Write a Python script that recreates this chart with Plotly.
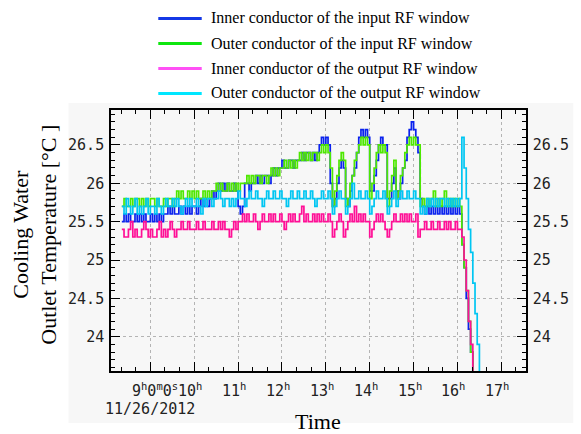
import plotly.graph_objects as go
import pandas as pd

# ---------------- data ----------------
series_names = [
    "Inner conductor of the input RF window",
    "Outer conductor of the input RF window",
    "Inner conductor of the output RF window",
    "Outer conductor of the output RF window",
]
start_time = "2012-11-26 08:21:00"
step_minutes = 3

inner_in = [
    25.5, 25.6, 25.5, 25.6, 25.5, 25.5, 25.6, 25.5, 25.6, 25.5,
    25.6, 25.5, 25.5, 25.6, 25.5, 25.6, 25.5, 25.6, 25.5, 25.6,
    25.6, 25.7, 25.6, 25.7, 25.6, 25.6, 25.7, 25.6, 25.7, 25.6,
    25.7, 25.6, 25.7, 25.7, 25.6, 25.7, 25.8, 25.7, 25.8, 25.7,
    25.8, 25.9, 25.8, 25.9, 26.0, 25.9, 26.0, 25.9, 26.0, 25.9,
    25.9, 26.0, 25.9, 25.7, 25.6, 25.7, 26.0, 26.0, 25.9, 26.0,
    26.0, 26.1, 26.0, 26.1, 26.0, 26.1, 26.1, 26.0, 26.1, 26.2,
    26.1, 26.2, 26.2, 26.3, 26.2, 26.2, 26.3, 26.3, 26.2, 26.3,
    26.3, 26.3, 26.4, 26.3, 26.4, 26.4, 26.3, 26.4, 26.3, 26.4,
    26.5, 26.6, 26.5, 26.6, 26.5, 26.0, 25.7, 25.8, 26.0, 26.2,
    26.3, 26.2, 25.8, 25.7, 25.9, 26.1, 26.2, 26.4, 26.6, 26.7,
    26.6, 26.7, 26.6, 25.9, 25.9, 26.1, 26.3, 26.5, 26.6, 26.5,
    26.5, 25.8, 25.8, 26.0, 26.2, 25.9, 25.8, 26.0, 26.2, 26.3,
    26.6, 26.7, 26.8, 26.7, 26.6, 26.4, 25.8, 25.7, 25.6, 25.7,
    25.6, 25.7, 25.6, 25.7, 25.6, 25.7, 25.6, 25.7, 25.6, 25.7,
    25.6, 25.7, 25.6, 25.7, 25.6, 25.2, 24.9, 24.5, 24.1, 23.8,
    23.5, 23.2,
]

outer_in = [
    25.7, 25.8, 25.7, 25.7, 25.8, 25.7, 25.8, 25.8, 25.7, 25.8,
    25.7, 25.8, 25.7, 25.8, 25.8, 25.7, 25.8, 25.7, 25.7, 25.8,
    25.7, 25.8, 25.8, 25.7, 25.8, 25.9, 25.8, 25.9, 25.8, 25.8,
    25.9, 25.8, 25.9, 25.8, 25.9, 25.8, 25.8, 25.9, 25.8, 25.9,
    25.8, 25.9, 25.9, 26.0, 25.9, 26.0, 25.9, 25.9, 26.0, 25.9,
    26.0, 25.9, 26.0, 25.9, 26.0, 26.0, 26.0, 26.1, 26.0, 26.1,
    26.0, 26.1, 26.1, 26.0, 26.1, 26.1, 26.0, 26.1, 26.2, 26.1,
    26.2, 26.1, 26.2, 26.2, 26.3, 26.2, 26.3, 26.2, 26.3, 26.2,
    26.3, 26.4, 26.3, 26.4, 26.3, 26.4, 26.3, 26.4, 26.4, 26.3,
    26.4, 26.5, 26.4, 26.5, 26.4, 26.2, 25.7, 25.9, 26.1, 26.3,
    26.4, 26.3, 25.7, 25.8, 26.0, 26.1, 26.3, 26.4, 26.5, 26.6,
    26.5, 26.6, 26.5, 25.8, 26.0, 26.2, 26.4, 26.5, 26.4, 26.5,
    26.4, 25.7, 25.9, 26.1, 26.3, 25.8, 25.9, 26.1, 26.2, 26.4,
    26.5, 26.6, 26.5, 26.6, 26.5, 26.5, 25.7, 25.8, 25.7, 25.8,
    25.7, 25.8, 25.9, 25.7, 25.8, 25.7, 25.8, 25.9, 25.7, 25.8,
    25.7, 25.8, 25.7, 25.8, 25.7, 25.2, 24.9, 24.6, 24.2, 23.8,
    23.5, 23.1,
]

inner_out = [
    25.4, 25.3, 25.3, 25.4, 25.5, 25.3, 25.4, 25.3, 25.3, 25.4,
    25.5, 25.4, 25.3, 25.4, 25.3, 25.3, 25.4, 25.5, 25.3, 25.4,
    25.3, 25.4, 25.5, 25.4, 25.3, 25.4, 25.4, 25.5, 25.4, 25.4,
    25.5, 25.4, 25.4, 25.4, 25.5, 25.4, 25.4, 25.5, 25.4, 25.4,
    25.4, 25.5, 25.4, 25.4, 25.5, 25.4, 25.5, 25.4, 25.4, 25.3,
    25.4, 25.5, 25.4, 25.5, 25.5, 25.6, 25.5, 25.6, 25.5, 25.5,
    25.6, 25.5, 25.4, 25.5, 25.6, 25.5, 25.5, 25.6, 25.5, 25.6,
    25.5, 25.5, 25.6, 25.5, 25.4, 25.5, 25.6, 25.5, 25.6, 25.5,
    25.5, 25.6, 25.7, 25.5, 25.6, 25.5, 25.5, 25.6, 25.5, 25.6,
    25.5, 25.6, 25.5, 25.5, 25.6, 25.5, 25.3, 25.4, 25.5, 25.6,
    25.5, 25.3, 25.4, 25.5, 25.6, 25.5, 25.7, 25.5, 25.6, 25.5,
    25.6, 25.5, 25.5, 25.3, 25.4, 25.5, 25.6, 25.5, 25.6, 25.5,
    25.4, 25.3, 25.4, 25.5, 25.6, 25.5, 25.5, 25.6, 25.5, 25.6,
    25.5, 25.6, 25.5, 25.5, 25.6, 25.3, 25.4, 25.4, 25.5, 25.4,
    25.4, 25.5, 25.4, 25.4, 25.5, 25.4, 25.4, 25.5, 25.4, 25.5,
    25.4, 25.4, 25.5, 25.4, 25.4, 25.3, 25.0, 24.6, 24.2, 23.9,
    23.5, 23.2,
]

outer_out = [
    25.7, 25.6, 25.8, 25.7, 25.6, 25.7, 25.8, 25.6, 25.7, 25.6,
    25.7, 25.8, 25.6, 25.7, 25.7, 25.6, 25.8, 25.7, 25.6, 25.7,
    25.8, 25.7, 25.7, 25.8, 25.7, 25.8, 25.7, 25.6, 25.7, 25.8,
    25.7, 25.8, 25.7, 25.7, 25.8, 25.7, 25.6, 25.8, 25.7, 25.8,
    25.8, 25.7, 25.8, 25.8, 25.9, 25.8, 25.7, 25.8, 25.8, 25.7,
    25.8, 25.7, 25.8, 25.9, 25.8, 25.8, 25.7, 25.8, 25.9, 25.8,
    25.8, 25.9, 25.8, 25.8, 25.7, 25.8, 25.9, 25.8, 25.8, 25.9,
    25.8, 25.8, 25.9, 25.8, 25.8, 25.7, 25.8, 25.9, 25.8, 25.8,
    25.9, 25.8, 25.8, 25.9, 25.8, 25.8, 25.9, 25.8, 25.7, 25.8,
    25.8, 25.9, 25.8, 25.8, 25.9, 25.8, 25.6, 25.7, 25.8, 25.9,
    25.8, 25.8, 25.6, 25.7, 25.8, 26.0, 25.8, 25.8, 25.9, 25.8,
    25.8, 25.9, 25.8, 25.6, 25.7, 25.8, 25.9, 25.8, 25.8, 25.9,
    25.8, 25.6, 25.7, 25.8, 25.9, 25.7, 25.8, 25.9, 25.8, 25.8,
    25.9, 25.8, 25.8, 25.9, 25.8, 25.8, 25.6, 25.7, 25.6, 25.8,
    25.7, 25.8, 25.7, 25.8, 25.7, 25.8, 25.8, 25.7, 25.8, 25.7,
    25.8, 25.7, 25.8, 25.7, 25.8, 26.6, 26.2, 25.8, 25.4, 25.1,
    24.7, 24.3, 23.9, 23.5, 23.1,
]

y_tick_values = [24, 24.5, 25, 25.5, 26, 26.5]
y_tick_labels = ["24", "24.5", "25", "25.5", "26", "26.5"]
hour_ticks = [9, 10, 11, 12, 13, 14, 15, 16, 17]
date_label = "11/26/2012"

# ---------------- styling ----------------
data_colors = ["#0a22ee", "#4ee800", "#ff0f96", "#00c6f2"]
legend_colors = ["#1438e6", "#0ee60e", "#ff50f5", "#00e6ff"]
mono = "DejaVu Sans Mono"
serif = "Liberation Serif"

W, H = 581, 434
L, R, T, B = 111, 40, 110, 63
pw, ph = W - L - R, H - T - B


def px_x(px):
    return (px - L) / pw


def px_y(py):
    return (H - B - py) / ph


def times(n):
    return pd.date_range(start_time, periods=n, freq=f"{step_minutes}min")


fig = go.Figure()
for vals, col, name in zip([inner_in, outer_in, inner_out, outer_out], data_colors, series_names):
    fig.add_trace(go.Scatter(
        x=times(len(vals)), y=vals, mode="lines", name=name,
        line=dict(color=col, width=1.7, shape="hv"), showlegend=False,
    ))

# invisible anchor trace for the right-hand axis
fig.add_trace(go.Scatter(x=[pd.Timestamp(start_time)], y=[25], yaxis="y2",
                         mode="markers", marker=dict(opacity=0), showlegend=False,
                         hoverinfo="skip"))

yr = [23.553, 26.956]
xr = ["2012-11-26 08:06:11", "2012-11-26 17:33:43"]

fig.update_layout(
    width=W, height=H, autosize=False,
    margin=dict(l=L, r=R, t=T, b=B, pad=0),
    paper_bgcolor="white", plot_bgcolor="rgba(0,0,0,0)",
    xaxis=dict(
        type="date", range=xr, showticklabels=False,
        tick0="2012-11-26 00:00:00", dtick=3600000,
        ticks="inside", ticklen=9, tickwidth=1.3, tickcolor="black",
        minor=dict(dtick=1200000, ticks="inside", ticklen=4, tickcolor="black", tickwidth=1.1),
        showline=True, linecolor="black", linewidth=1.6, mirror="ticks",
        showgrid=True, gridcolor="#b4b4b4", griddash="dot", gridwidth=1,
        zeroline=False,
    ),
    yaxis=dict(
        range=yr, tickvals=y_tick_values, ticktext=y_tick_labels,
        ticks="inside", ticklen=9, tickwidth=1.3, tickcolor="black",
        minor=dict(dtick=0.1, ticks="inside", ticklen=4, tickcolor="black", tickwidth=1.1),
        showline=True, linecolor="black", linewidth=1.6, mirror=False,
        showgrid=True, gridcolor="#b4b4b4", griddash="dot", gridwidth=1,
        zeroline=False, tickfont=dict(family=mono, size=15, color="#222"),
        ticklabelstandoff=2,
    ),
    yaxis2=dict(
        range=yr, overlaying="y", side="right", tickvals=y_tick_values, ticktext=y_tick_labels,
        ticks="inside", ticklen=9, tickwidth=1.3, tickcolor="black",
        minor=dict(dtick=0.1, ticks="inside", ticklen=4, tickcolor="black", tickwidth=1.1),
        showline=True, linecolor="black", linewidth=1.6,
        showgrid=False, zeroline=False, tickfont=dict(family=mono, size=15, color="#222"),
        ticklabelstandoff=2,
    ),
)

shapes = [dict(type="rect", xref="paper", yref="paper", layer="below",
               x0=px_x(67), x1=px_x(590), y0=px_y(423), y1=px_y(103),
               fillcolor="#f7f7f7", line=dict(width=0))]

annotations = []
# legend (lines + text)
legend_rows = [18.5, 43.5, 68.5, 93.5]
for name, col, ry in zip(series_names, legend_colors, legend_rows):
    shapes.append(dict(type="line", xref="paper", yref="paper",
                       x0=px_x(160), x1=px_x(205), y0=px_y(ry), y1=px_y(ry),
                       line=dict(color=col, width=3)))
    annotations.append(dict(text=name, xref="paper", yref="paper", x=px_x(213), y=px_y(ry),
                            xanchor="left", yanchor="middle", showarrow=False,
                            font=dict(family=serif, size=16, color="black")))

# hour tick labels
for h in hour_ticks:
    if h == 9:
        txt, shift = "9<sup>h</sup>0<sup>m</sup>0<sup>s</sup>", 5
    else:
        txt, shift = f"{h}<sup>h</sup>", -4
    annotations.append(dict(text=txt, xref="x", yref="paper",
                            x=f"2012-11-26 {h:02d}:00:00", y=px_y(390),
                            xanchor="center", yanchor="middle", xshift=shift, showarrow=False,
                            font=dict(family=mono, size=15, color="#222")))
annotations.append(dict(text=date_label, xref="x", yref="paper", x="2012-11-26 09:00:00",
                        y=px_y(409), xanchor="center", yanchor="middle", showarrow=False,
                        font=dict(family=mono, size=15, color="#222")))

# axis titles
annotations.append(dict(text="Cooling Water<br>Outlet Temperature [°C ]", xref="paper", yref="paper",
                        x=px_x(32), y=px_y(235), xanchor="center", yanchor="middle",
                        textangle=-90, showarrow=False,
                        font=dict(family=serif, size=22, color="black")))
annotations.append(dict(text="Time", xref="paper", yref="paper", x=px_x(325.5), y=px_y(421),
                        xanchor="center", yanchor="middle", showarrow=False,
                        font=dict(family=serif, size=22, color="black")))

fig.update_layout(shapes=shapes, annotations=annotations)
fig.write_html("out.html")
